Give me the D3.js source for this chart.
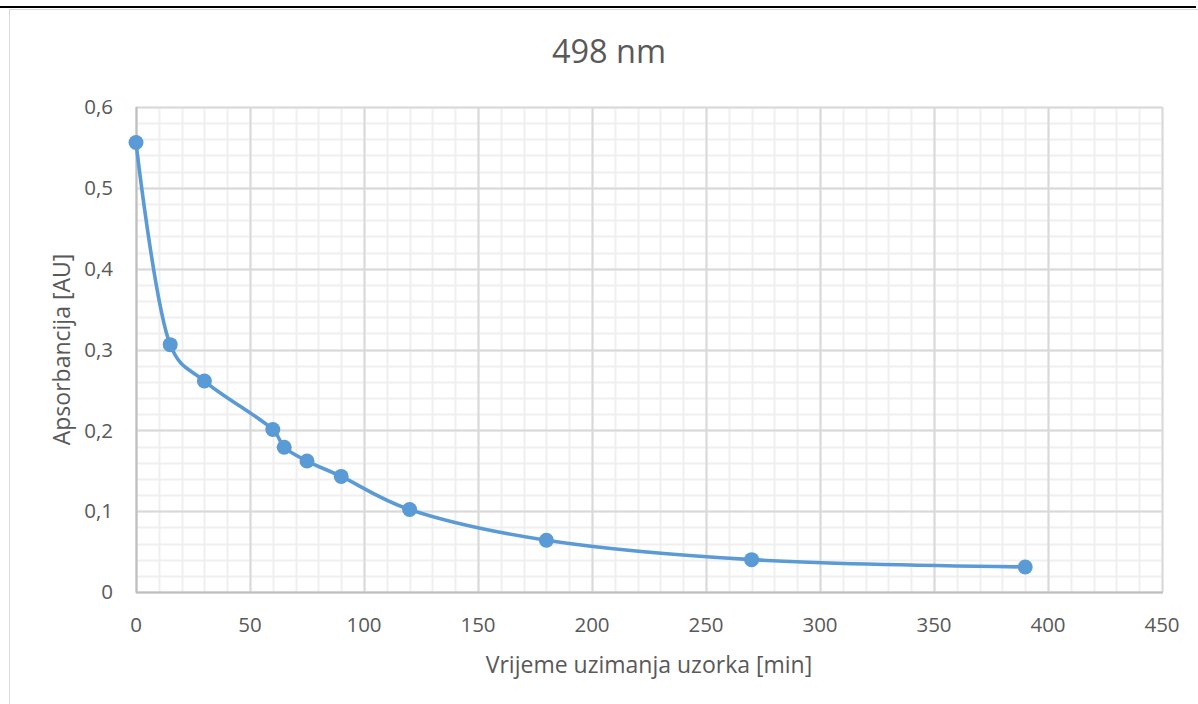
<!DOCTYPE html>
<html lang="en">
<head>
<meta charset="utf-8">
<title>498 nm</title>
<script src="https://cdn.jsdelivr.net/npm/d3@7/dist/d3.min.js"></script>
<style>
  body { margin: 0; background: #fff; font-family: 'Open Sans', sans-serif; }
  svg text { fill: #595959; }
</style>
</head>
<body>
<div id="chart"></div>
<script>
// data
var times = [0, 15, 30, 60, 65, 75, 90, 120, 180, 270, 390];
var absorb = [0.556, 0.306, 0.261, 0.201, 0.179, 0.162, 0.143, 0.102, 0.064, 0.040, 0.031];
var xTicks = [0, 50, 100, 150, 200, 250, 300, 350, 400, 450];
var yTicks = [0, 0.1, 0.2, 0.3, 0.4, 0.5, 0.6];
var title = "498 nm";
var xTitle = "Vrijeme uzimanja uzorka [min]";
var yTitle = "Apsorbancija [AU]";

var W = 1198, H = 704;
var m = {left: 136, right: 1162, top: 107, bottom: 592};

var svg = d3.select("#chart").append("svg")
    .attr("width", W).attr("height", H);

// chart frame
svg.append("rect")
    .attr("x", 9.5).attr("y", 9.5)
    .attr("width", W + 20).attr("height", H + 20)
    .attr("fill", "none").attr("stroke", "#d9d9d9").attr("stroke-width", 1);
svg.append("line")
    .attr("x1", 0).attr("x2", 1196).attr("y1", 7).attr("y2", 7)
    .attr("stroke", "#000").attr("stroke-width", 2);

var x = d3.scaleLinear().domain([0, 450]).range([m.left, m.right]);
var y = d3.scaleLinear().domain([0, 0.6]).range([m.bottom, m.top]);

var grid = svg.append("g");
// minor gridlines
grid.selectAll(".vminor").data(d3.range(0, 451, 10)).enter().append("line")
    .attr("x1", d => Math.round(x(d)) + 0.5).attr("x2", d => Math.round(x(d)) + 0.5)
    .attr("y1", m.top).attr("y2", m.bottom)
    .attr("stroke", "#efefef").attr("stroke-width", 2);
grid.selectAll(".hminor").data(d3.range(0, 31).map(i => i * 0.02)).enter().append("line")
    .attr("x1", m.left).attr("x2", m.right)
    .attr("y1", d => Math.round(y(d)) + 0.5).attr("y2", d => Math.round(y(d)) + 0.5)
    .attr("stroke", "#efefef").attr("stroke-width", 2);
// major gridlines
grid.selectAll(".vmajor").data(xTicks).enter().append("line")
    .attr("x1", d => Math.round(x(d)) + 0.5).attr("x2", d => Math.round(x(d)) + 0.5)
    .attr("y1", m.top).attr("y2", m.bottom)
    .attr("stroke", "#d9d9d9").attr("stroke-width", 2);
grid.selectAll(".hmajor").data(yTicks).enter().append("line")
    .attr("x1", m.left).attr("x2", m.right)
    .attr("y1", d => Math.round(y(d)) + 0.5).attr("y2", d => Math.round(y(d)) + 0.5)
    .attr("stroke", "#d9d9d9").attr("stroke-width", 2);
// axis lines
svg.append("line").attr("x1", m.left + 0.5).attr("x2", m.left + 0.5)
    .attr("y1", m.top).attr("y2", m.bottom + 1)
    .attr("stroke", "#bfbfbf").attr("stroke-width", 2);
svg.append("line").attr("x1", m.left).attr("x2", m.right + 1)
    .attr("y1", m.bottom + 0.5).attr("y2", m.bottom + 0.5)
    .attr("stroke", "#bfbfbf").attr("stroke-width", 2);

var fmt = d => d3.format(".1f")(d).replace(".", ",");

// tick labels
svg.append("g").selectAll("text").data(yTicks).enter().append("text")
    .attr("x", 113).attr("y", d => y(d)).attr("dy", "0.35em")
    .attr("text-anchor", "end").style("font-size", "20.5px")
    .text(d => d === 0 ? "0" : fmt(d));
svg.append("g").selectAll("text").data(xTicks).enter().append("text")
    .attr("x", d => x(d)).attr("y", 632)
    .attr("text-anchor", "middle").style("font-size", "20.5px")
    .text(d => d);

// titles
svg.append("text").attr("x", 609).attr("y", 63)
    .attr("text-anchor", "middle").style("font-size", "32.5px").text(title);
svg.append("text").attr("x", (m.left + m.right) / 2).attr("y", 673)
    .attr("text-anchor", "middle").style("font-size", "23px").text(xTitle);
svg.append("text")
    .attr("transform", "translate(70," + ((m.top + m.bottom) / 2) + ") rotate(-90)")
    .attr("text-anchor", "middle").style("font-size", "23px").text(yTitle);

// series (smoothed line)
var pts = times.map((t, i) => [t, absorb[i]]);
var line = d3.line().x(d => x(d[0])).y(d => y(d[1])).curve(d3.curveCatmullRom.alpha(0.3));
svg.append("path").datum(pts).attr("d", line)
    .attr("fill", "none").attr("stroke", "#5b9bd5").attr("stroke-width", 3.6)
    .attr("stroke-linecap", "round");
svg.append("g").selectAll("circle").data(pts).enter().append("circle")
    .attr("cx", d => x(d[0])).attr("cy", d => y(d[1])).attr("r", 7.5)
    .attr("fill", "#5b9bd5");
</script>
</body>
</html>
